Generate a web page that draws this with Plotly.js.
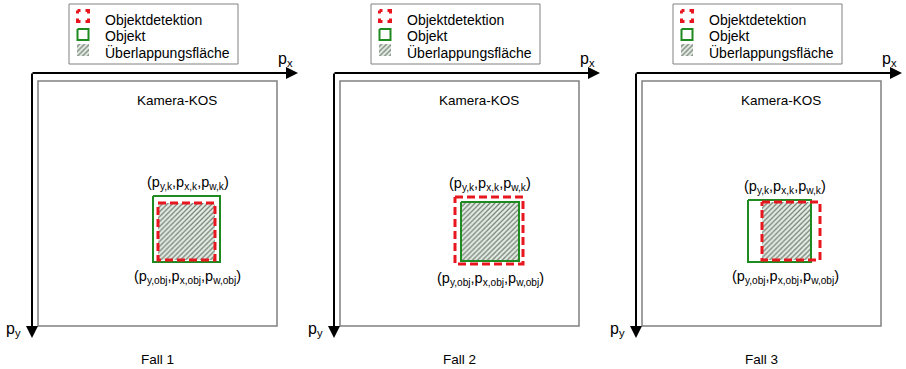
<!DOCTYPE html>
<html><head><meta charset="utf-8">
<script src="https://cdn.plot.ly/plotly-3.0.1.min.js"></script>
<style>html,body{margin:0;padding:0;background:#fff}</style>
</head><body><div id="chart" style="width:906px;height:369px"></div>
<script>
// ---- data (camera coordinates, origin at the axis corner, y pointing down) ----
const cases = ['Fall 1', 'Fall 2', 'Fall 3'];
// Objektdetektion (detected box)
const detX0 = [126, 121, 126];
const detX1 = [183, 189, 184];
const detY0 = [130, 124, 129];
const detY1 = [187, 191, 187];
// Objekt (true object box)
const objX0 = [121, 127, 112];
const objX1 = [188, 185, 175];
const objY0 = [123, 129, 127];
const objY1 = [189, 188, 189];
// camera image extent (Kamera-KOS)
const camX = [6, 245];
const camY = [8, 253];
const legendLabels = ['Objektdetektion', 'Objekt', 'Überlappungsfläche'];
const frameTitle = 'Kamera-KOS';
const detLabel = '(p<sub>y,k</sub>,p<sub>x,k</sub>,p<sub>w,k</sub>)';
const objLabel = '(p<sub>y,obj</sub>,p<sub>x,obj</sub>,p<sub>w,obj</sub>)';
const axisLabels = ['p<sub>x</sub>', 'p<sub>y</sub>'];

// ---- styles ----
const FONT = 'Liberation Sans, Arial, sans-serif';
const RED = '#e8161e', GREEN = '#1f8a1f', GRAY = '#808080';
const HATCH = {shape: '/', fgcolor: '#6f786f', bgcolor: '#e6efe6', size: 3.5, solidity: 0.35};

function rect(x0, x1, y0, y1) { return {x: [x0, x1, x1, x0, x0], y: [y0, y0, y1, y1, y0]}; }

const traces = [], shapes = [], annotations = [];
cases.forEach((c, i) => {
  const xa = i === 0 ? 'x' : 'x' + (i + 1);
  const base = {type: 'scatter', xaxis: xa, yaxis: 'y', hoverinfo: 'skip', showlegend: false};
  // overlap area
  const ox0 = Math.max(detX0[i], objX0[i]), ox1 = Math.min(detX1[i], objX1[i]);
  const oy0 = Math.max(detY0[i], objY0[i]), oy1 = Math.min(detY1[i], objY1[i]);
  traces.push(Object.assign({}, base, rect(ox0, ox1, oy0, oy1),
    {mode: 'none', fill: 'toself', fillcolor: HATCH.bgcolor, fillpattern: HATCH}));
  traces.push(Object.assign({}, base, rect(objX0[i], objX1[i], objY0[i], objY1[i]),
    {mode: 'lines', line: {color: GREEN, width: 2}}));
  traces.push(Object.assign({}, base, rect(detX0[i], detX1[i], detY0[i], detY1[i]),
    {mode: 'lines', line: {color: RED, width: 3, dash: '8px,4px'}}));

  // legend icons
  traces.push(Object.assign({}, base, rect(45.5, 56.5, -62.5, -51.5),
    {mode: 'lines', line: {color: RED, width: 3, dash: '3px,5px,6px,5px,6px,5px,6px,5px,3px'}}));
  traces.push(Object.assign({}, base, rect(45.5, 56.5, -44, -33),
    {mode: 'lines', line: {color: GREEN, width: 2}}));
  traces.push(Object.assign({}, base, rect(45, 57, -29, -17),
    {mode: 'none', fill: 'toself', fillcolor: HATCH.bgcolor, fillpattern: HATCH}));

  // camera frame and legend box
  shapes.push({type: 'rect', xref: xa, yref: 'y', x0: camX[0], x1: camX[1], y0: camY[0], y1: camY[1],
    line: {color: GRAY, width: 1.5}, layer: 'below'});
  shapes.push({type: 'rect', xref: xa, yref: 'y', x0: 37, x1: 206, y0: -69, y1: -9,
    line: {color: GRAY, width: 1}, layer: 'below'});

  const txt = (text, x, y, size, extra) => Object.assign({
    xref: xa, yref: 'y', x: x, y: y, text: text, showarrow: false,
    font: {family: FONT, size: size, color: '#000'}, xanchor: 'center', yanchor: 'middle'}, extra || {});

  // axis arrows
  annotations.push({xref: xa, yref: 'y', axref: xa, ayref: 'y', x: 266, y: 0, ax: -1, ay: 0,
    text: '', showarrow: true, arrowhead: 2, arrowsize: 1.2, arrowwidth: 2, arrowcolor: '#000', standoff: 0});
  annotations.push({xref: xa, yref: 'y', axref: xa, ayref: 'y', x: 0, y: 265, ax: 0, ay: -1,
    text: '', showarrow: true, arrowhead: 2, arrowsize: 1.2, arrowwidth: 2, arrowcolor: '#000', standoff: 0});
  annotations.push(txt(axisLabels[0], 253, -14, 16));
  annotations.push(txt(axisLabels[1], -19, 256, 16));

  // legend texts
  [-53, -37, -21].forEach((yy, k) => annotations.push(txt(legendLabels[k], 71, yy, 14, {xanchor: 'left'})));

  annotations.push(txt(frameTitle, 145, 27, 13.5));
  annotations.push(txt(c, 125, 286, 13.5));

  const ux = (Math.min(detX0[i], objX0[i]) + Math.max(detX1[i], objX1[i])) / 2;
  const uy0 = Math.min(detY0[i], objY0[i]), uy1 = Math.max(detY1[i], objY1[i]);
  annotations.push(txt(detLabel, ux + 1, uy0 - 13, 14.5));
  annotations.push(txt(objLabel, ux + 1, uy1 + 15, 14.5));
});

const ax = (d) => ({domain: d, range: [-32, 270], visible: false, fixedrange: true, anchor: 'y'});
const layout = {
  width: 906, height: 369, margin: {l: 0, r: 0, t: 0, b: 0},
  paper_bgcolor: '#fff', plot_bgcolor: '#fff', showlegend: false, hovermode: false,
  xaxis: ax([0, 302 / 906]), xaxis2: ax([302 / 906, 604 / 906]), xaxis3: ax([604 / 906, 1]),
  yaxis: {domain: [0, 1], range: [296, -73], visible: false, fixedrange: true, anchor: 'x'},
  shapes: shapes, annotations: annotations
};
Plotly.newPlot('chart', traces, layout, {displayModeBar: false, staticPlot: true});
</script></body></html>
